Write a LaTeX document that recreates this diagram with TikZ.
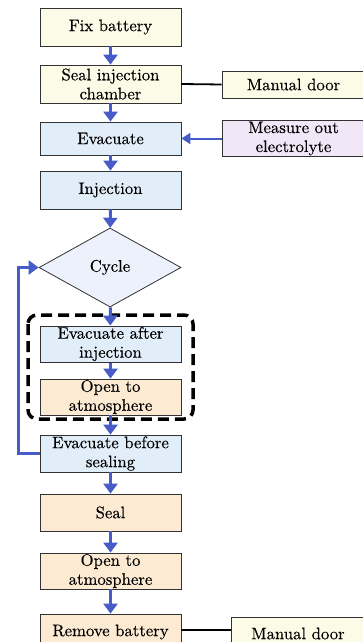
\documentclass[tikz,border=0pt]{standalone}
\usepackage{fontspec}
\setmainfont{lmroman10-regular.otf}[FakeBold=0.3]
\usetikzlibrary{arrows.meta,shapes.geometric}
\definecolor{cream}{RGB}{251,251,231}
\definecolor{paleblue}{RGB}{226,237,250}
\definecolor{diamblue}{RGB}{236,241,251}
\definecolor{peach}{RGB}{253,234,211}
\definecolor{lavender}{RGB}{241,231,247}
\definecolor{flowblue}{RGB}{72,92,200}
\definecolor{edge}{RGB}{50,50,50}
\tikzset{
  labelfont/.style={font=\fontsize{16.7}{19}\selectfont},
  box/.style={draw=edge, line width=0.8pt, rectangle, align=center,
    minimum width=141pt, inner sep=1pt, labelfont},
  flow/.style={draw=flowblue, line width=3pt,
    -{Triangle[width=14pt,length=10pt]}},
  thinflow/.style={draw=flowblue, line width=2pt,
    -{Triangle[width=11pt,length=9pt]}},
  link/.style={draw=black, line width=1.8pt},
}
\begin{document}
\begin{tikzpicture}[x=1pt,y=-1pt]
\useasboundingbox (0,0) rectangle (363,642);

% main column
\node[box, fill=cream, minimum height=38pt] (fix) at (110.5,27) {Fix battery};
\node[box, fill=cream, minimum height=38pt] (sealch) at (110.5,84) {Seal injection\\chamber};
\node[box, fill=paleblue, minimum height=33pt] (evac) at (110.5,138.5) {Evacuate};
\node[box, fill=paleblue, minimum height=38pt] (inj) at (110.5,190) {Injection};
\node[draw=edge, line width=0.8pt, fill=diamblue, diamond, aspect=1.8,
      minimum width=142pt, minimum height=79pt, inner sep=0pt,
      labelfont] (cycle) at (110,267.5) {Cycle};

% grouped step
\draw[black, line width=3.5pt, dash pattern=on 11pt off 6pt, rounded corners=9pt]
  (28,315) rectangle (193,419);
\node[box, fill=paleblue, minimum height=32pt] (evafter) at (110.5,344) {Evacuate after\\injection};
\node[box, fill=peach, minimum height=32pt] (open1) at (110.5,397) {Open to\\atmosphere};

\node[box, fill=paleblue, minimum height=37pt] (evbefore) at (110.5,453.5) {Evacuate before\\sealing};
\node[box, fill=peach, minimum height=37pt] (seal) at (110.5,512.5) {Seal};
\node[box, fill=peach, minimum height=36pt] (open2) at (110.5,571) {Open to\\atmosphere};
\node[box, fill=peach, minimum height=36pt] (remove) at (110.5,632) {Remove battery};

% side column
\node[box, fill=cream, minimum width=143pt, minimum height=27pt] (door1) at (293.5,84.5) {Manual door};
\node[box, fill=lavender, minimum width=143pt, minimum height=35pt] (measure) at (293.5,138.5) {Measure out\\electrolyte};
\node[box, fill=cream, minimum width=134pt, minimum height=33pt] (door2) at (298,633.5) {Manual door};

% connectors
\draw[flow] (fix) -- (sealch);
\draw[flow] (sealch) -- (evac);
\draw[flow] (evac) -- (inj);
\draw[flow] (inj) -- (cycle);
\draw[flow] (cycle) -- (evafter);
\draw[flow] (evafter) -- (open1);
\draw[flow] (open1) -- (evbefore);
\draw[flow] (evbefore) -- (seal);
\draw[flow] (seal) -- (open2);
\draw[flow] (open2) -- (remove);
\coordinate (loopbot) at (18.5,453);
\coordinate (looptop) at (18.5,267.5);
\draw[flow] (evbefore.west |- loopbot) -- (loopbot) -- (looptop) -- (cycle.west);
\draw[thinflow] (measure) -- (evac);
\draw[link] (sealch.east) -- (door1.west);
\draw[link] (remove.east |- 0,630) -- (door2.west |- 0,630);
\end{tikzpicture}
\end{document}
